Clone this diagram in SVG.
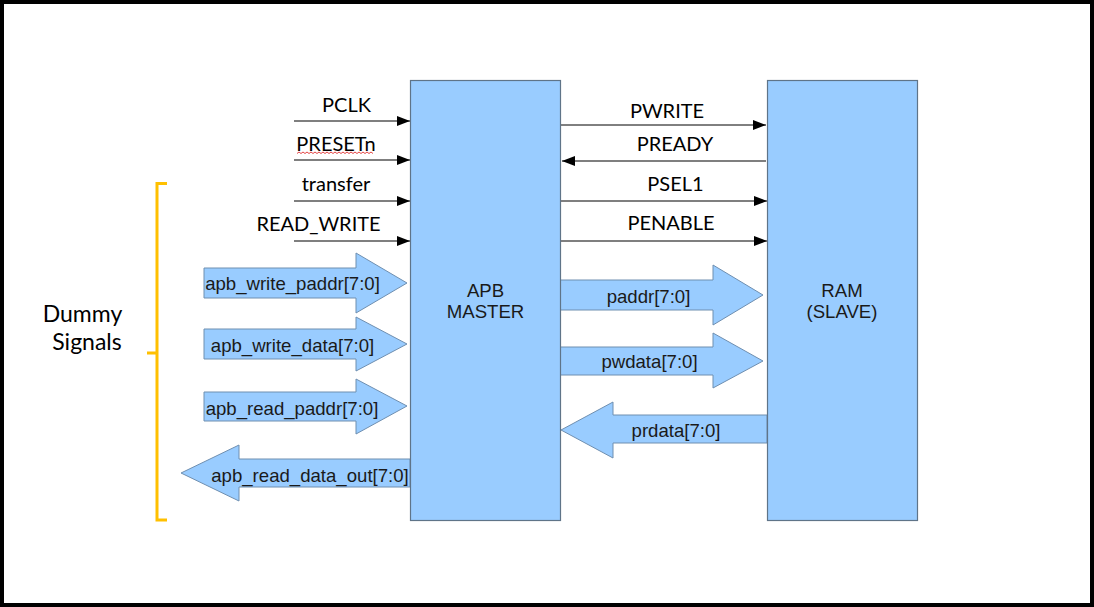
<svg xmlns="http://www.w3.org/2000/svg" width="1094" height="607" viewBox="0 0 1094 607">
<style>
.box{fill:#99CCFF;stroke:#5f7488;stroke-width:1.2}
.barrow{fill:#99CCFF;stroke:#6f8fb0;stroke-width:1}
.sig{stroke:#7f7f7f;stroke-width:2;fill:none}
.lbl{font-family:Lato,"Liberation Sans",sans-serif;font-size:20px;fill:#000;text-anchor:middle}
.big{font-size:23px}
.arl{font-family:"Liberation Sans",Arial,sans-serif;font-size:18.6px;fill:#1a1a1a;text-anchor:middle}
.brace{fill:none;stroke:#FFC000;stroke-width:3}
</style>
<defs>
<marker id="ah" markerUnits="userSpaceOnUse" markerWidth="14" markerHeight="11" refX="13" refY="5" orient="auto">
<path d="M0,0 L13,5 L0,10 z" fill="#000"/>
</marker>
</defs>
<rect x="0" y="0" width="1094" height="607" fill="#fff"/>
<rect x="2" y="2" width="1090" height="603" fill="none" stroke="#000" stroke-width="4"/>

<g id="connectors">
<line class="sig" x1="294" y1="121" x2="410" y2="121" marker-end="url(#ah)"/>
<line class="sig" x1="294" y1="160" x2="410" y2="160" marker-end="url(#ah)"/>
<line class="sig" x1="294" y1="201" x2="410" y2="201" marker-end="url(#ah)"/>
<line class="sig" x1="294" y1="241" x2="410" y2="241" marker-end="url(#ah)"/>
<line x1="561" y1="125" x2="766" y2="125" stroke="#000" stroke-width="1" marker-end="url(#ah)"/>
<line class="sig" x1="766" y1="161" x2="562" y2="161" stroke="#a6a6a6" marker-end="url(#ah)"/>
<line class="sig" x1="561" y1="201" x2="767" y2="201" marker-end="url(#ah)"/>
<line class="sig" x1="561" y1="241" x2="767" y2="241" marker-end="url(#ah)"/>

<polygon class="barrow" points="204,268 356,268 356,253 407,283 356,313 356,298 204,298"/>
<polygon class="barrow" points="204,329 356,329 356,317 407,344 356,371 356,359 204,359"/>
<polygon class="barrow" points="204,392 356,392 356,379 407,406 356,434 356,421 204,421"/>
<polygon class="barrow" points="410,459 239,459 239,445 181,473 239,501 239,487 410,487"/>
<polygon class="barrow" points="560,280 713,280 713,265 763,295 713,325 713,310 560,310"/>
<polygon class="barrow" points="560,347 713,347 713,333 763,361 713,388 713,375 560,375"/>
<polygon class="barrow" points="767,415 613,415 613,402 561,430 613,458 613,443 767,443"/>

<text class="lbl" x="346.5" y="112">PCLK</text>
<text class="lbl" x="336" y="151">PRESETn</text>
<path d="M297,153.5 l2,-1.5 l2,1.5 l2,-1.5 l2,1.5 l2,-1.5 l2,1.5 l2,-1.5 l2,1.5 l2,-1.5 l2,1.5 l2,-1.5 l2,1.5 l2,-1.5 l2,1.5 l2,-1.5 l2,1.5 l2,-1.5 l2,1.5 l2,-1.5 l2,1.5 l2,-1.5 l2,1.5 l2,-1.5 l2,1.5 l2,-1.5 l2,1.5 l2,-1.5 l2,1.5 l2,-1.5 l2,1.5 l2,-1.5 l2,1.5 l2,-1.5 l2,1.5 l2,-1.5 l2,1.5 l2,-1.5 l2,1.5" fill="none" stroke="#e03030" stroke-width="0.9"/>
<text class="lbl" x="336" y="191">transfer</text>
<text class="lbl" x="318.5" y="231">READ_WRITE</text>
<text class="lbl" x="667" y="118">PWRITE</text>
<text class="lbl" x="675" y="151">PREADY</text>
<text class="lbl" x="675.5" y="191">PSEL1</text>
<text class="lbl" x="671" y="230">PENABLE</text>

<text class="arl" x="292.5" y="290">apb_write_paddr[7:0]</text>
<text class="arl" x="292.5" y="352">apb_write_data[7:0]</text>
<text class="arl" x="292" y="415">apb_read_paddr[7:0]</text>
<text class="arl" x="310" y="482">apb_read_data_out[7:0]</text>
<text class="arl" x="648.5" y="303">paddr[7:0]</text>
<text class="arl" x="649.5" y="368">pwdata[7:0]</text>
<text class="arl" x="676" y="437">prdata[7:0]</text>
</g>

<g id="master">
<rect class="box" x="410.5" y="80.5" width="150" height="440"/>
<text class="arl" x="485.5" y="297">APB</text>
<text class="arl" x="485.5" y="318">MASTER</text>
</g>

<g id="ram">
<rect class="box" x="767.5" y="80.5" width="150" height="440"/>
<text class="arl" x="842" y="297">RAM</text>
<text class="arl" x="842" y="318">(SLAVE)</text>
</g>

<g id="dummy">
<path class="brace" d="M167,183.5 H157 V353 H147 M157,353 V520 H167"/>
<text class="lbl big" x="82.5" y="322">Dummy</text>
<text class="lbl big" x="87" y="350">Signals</text>
</g>
</svg>
